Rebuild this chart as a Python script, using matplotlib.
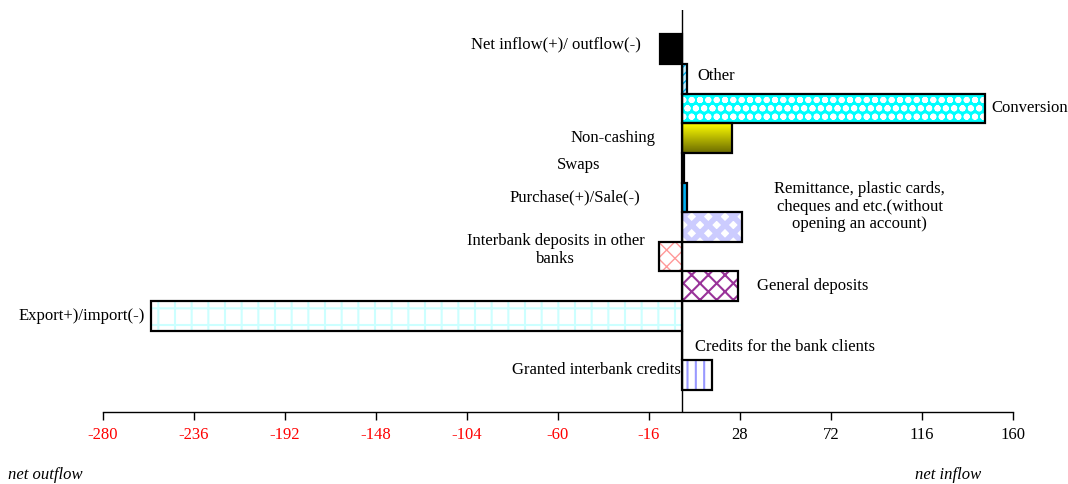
import numpy as np
import matplotlib
matplotlib.use("Agg")
import matplotlib.pyplot as plt
from matplotlib.colors import LinearSegmentedColormap

plt.rcParams["font.family"] = ["Liberation Serif", "DejaVu Serif"]
plt.rcParams["font.size"] = 12

# categories top to bottom
categories = [
    "Net inflow(+)/ outflow(-)",
    "Other",
    "Conversion",
    "Non-cashing",
    "Swaps",
    "Purchase(+)/Sale(-)",
    "Remittance, plastic cards,\ncheques and etc.(without\nopening an account)",
    "Interbank deposits in other\nbanks",
    "General deposits",
    "Export+)/import(-)",
    "Credits for the bank clients",
    "Granted interbank credits",
]
values = [-10.5, 2.5, 146.5, 24.2, 1.0, 2.2, 29.0, -11.0, 27.0, -257.0, 0.0, 14.5]
xticks = [-280, -236, -192, -148, -104, -60, -16, 28, 72, 116, 160]

# fill styles per bar: (facecolor, hatch, hatchcolor, hatch linewidth)
styles = [
    ("black", None, None, 1),
    ("#bfefff", "////", "#00b0f0", 1),
    ("#00ffff", "oo", "white", 2.0),
    ("gradient", None, None, 1),
    ("black", None, None, 1),
    ("#00b0f0", None, None, 1),
    ("white", "xx", "#ccccff", 4),
    ("white", "xx", "#ff9999", 1),
    ("white", "xx", "#993399", 1.5),
    ("white", "+", "#ccffff", 1.5),
    ("white", None, None, 1),
    ("white", "||", "#9999ff", 1.5),
]

# label placement: (x in data units, row offset, ha)
label_pos = [
    (-19.8, -0.15, "right"),
    (7.3, -0.1, "left"),
    (149.4, 0.0, "left"),
    (-12.6, 0.0, "right"),
    (-39.7, -0.1, "right"),
    (-20.3, 0.0, "right"),
    (86.0, -0.69, "center"),
    (-61.2, -0.22, "center"),
    (36.3, 0.0, "left"),
    (-259.7, 0.0, "right"),
    (6.3, 0.05, "left"),
    (-0.5, -0.17, "right"),
]

fig = plt.figure(figsize=(10.68, 4.84), dpi=100)
ax = fig.add_axes([0.0964, 0.1488, 0.852, 0.830])

for i, (v, st) in enumerate(zip(values, styles)):
    face, hatch, hcol, hlw = st
    if face == "gradient":
        bar = ax.barh(i, v, height=1.0, color="none", edgecolor="black", lw=1.6, zorder=3)[0]
        cmap = LinearSegmentedColormap.from_list("yo", ["#ffff00", "#6b6b00"])
        grad = np.linspace(0, 1, 64).reshape(-1, 1)
        im = ax.imshow(grad, cmap=cmap, aspect="auto",
                       extent=[0, v, i + 0.5, i - 0.5], zorder=2)
        im.set_clip_path(bar)
        continue
    if hatch:
        with plt.rc_context({"hatch.linewidth": hlw}):
            ax.barh(i, v, height=1.0, color=face, edgecolor=hcol, hatch=hatch, lw=0, zorder=2)
        ax.barh(i, v, height=1.0, color="none", edgecolor="black", lw=1.6, zorder=3)
    else:
        ax.barh(i, v, height=1.0, color=face, edgecolor="black", lw=1.6, zorder=3)

for i, (txt, (lx, dy, ha)) in enumerate(zip(categories, label_pos)):
    ax.text(lx, i + dy, txt, ha=ha, va="center", fontsize=12,
            multialignment="center", linespacing=1.12, zorder=4)

ax.axvline(0, color="black", lw=1, zorder=4)

ax.set_xlim(-280, 160)
ax.set_ylim(12.24, -1.31)
ax.set_xticks(xticks)
ax.set_xticklabels([str(t) for t in xticks])
for t, lab in zip(xticks, ax.get_xticklabels()):
    lab.set_color("red" if t < 0 else "black")
ax.tick_params(axis="x", length=6, width=1, pad=5, labelsize=12)
ax.set_yticks([])
for s in ["left", "right", "top"]:
    ax.spines[s].set_visible(False)
ax.spines["bottom"].set_linewidth(1)

fig.text(8 / 1068, 1 - 475 / 484, "net outflow", style="italic", fontsize=12, va="center", ha="left")
fig.text(981 / 1068, 1 - 475 / 484, "net inflow", style="italic", fontsize=12, va="center", ha="right")

fig.savefig("out.png", dpi=100)
